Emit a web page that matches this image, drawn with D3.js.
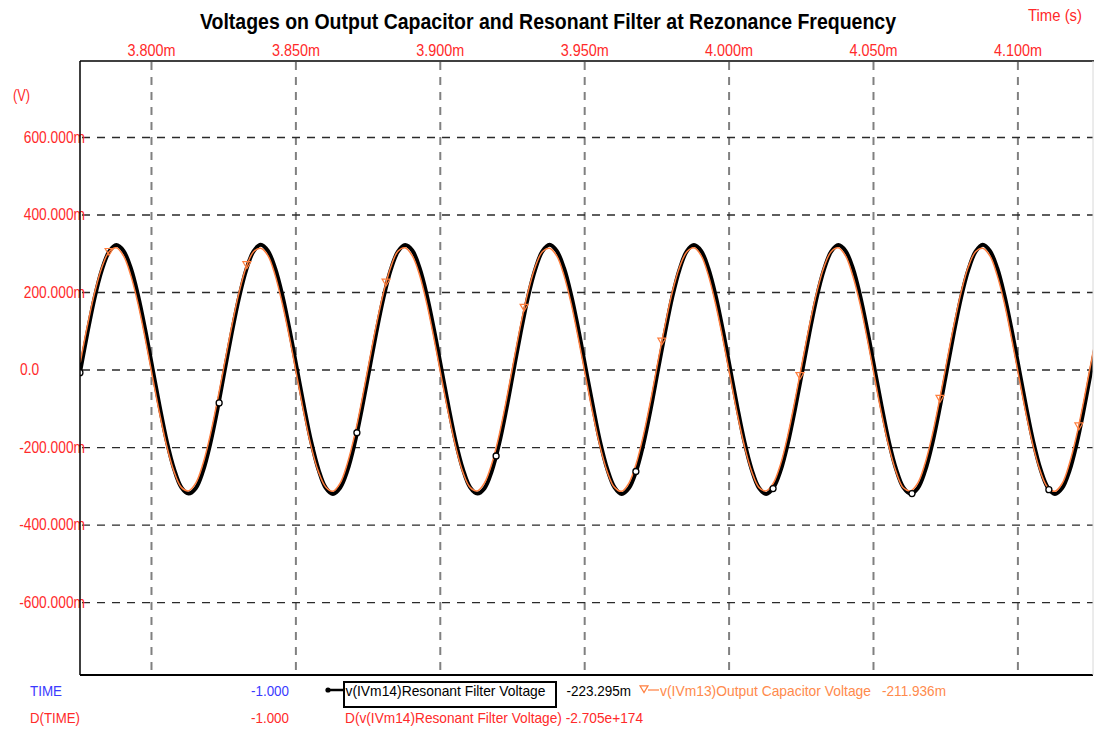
<!DOCTYPE html>
<html>
<head>
<meta charset="utf-8">
<script src="https://cdn.jsdelivr.net/npm/d3@7"></script>
<style>
  body { margin: 0; background: #fff; }
  svg { display: block; }
  text { font-family: "Liberation Sans", Arial, Helvetica, sans-serif; }
</style>
</head>
<body>
<svg id="chart" width="1094" height="729"></svg>
<script>
// ---- transient samples (time in ms, voltages in mV) ----
const timeMs = [
  3.7755,3.7780,3.7805,3.7830,3.7855,3.7880,3.7905,3.7930,3.7955,3.7980,
  3.8005,3.8030,3.8055,3.8080,3.8105,3.8130,3.8155,3.8180,3.8205,3.8230,
  3.8255,3.8280,3.8305,3.8330,3.8355,3.8380,3.8405,3.8430,3.8455,3.8480,
  3.8505,3.8530,3.8555,3.8580,3.8605,3.8630,3.8655,3.8680,3.8705,3.8730,
  3.8755,3.8780,3.8805,3.8830,3.8855,3.8880,3.8905,3.8930,3.8955,3.8980,
  3.9005,3.9030,3.9055,3.9080,3.9105,3.9130,3.9155,3.9180,3.9205,3.9230,
  3.9255,3.9280,3.9305,3.9330,3.9355,3.9380,3.9405,3.9430,3.9455,3.9480,
  3.9505,3.9530,3.9555,3.9580,3.9605,3.9630,3.9655,3.9680,3.9705,3.9730,
  3.9755,3.9780,3.9805,3.9830,3.9855,3.9880,3.9905,3.9930,3.9955,3.9980,
  4.0005,4.0030,4.0055,4.0080,4.0105,4.0130,4.0155,4.0180,4.0205,4.0230,
  4.0255,4.0280,4.0305,4.0330,4.0355,4.0380,4.0405,4.0430,4.0455,4.0480,
  4.0505,4.0530,4.0555,4.0580,4.0605,4.0630,4.0655,4.0680,4.0705,4.0730,
  4.0755,4.0780,4.0805,4.0830,4.0855,4.0880,4.0905,4.0930,4.0955,4.0980,
  4.1005,4.1030,4.1055,4.1080,4.1105,4.1130,4.1155,4.1180,4.1205,4.1230,
  4.1255,4.1280
];

// v(IVm14) Resonant Filter Voltage
const filterVoltage = [
  -4, 95, 186, 257, 304, 321, 306, 262, 192, 103, 4, -95, -186, -257, -304, -320, -306, -262, -192, -103,
  -3, 96, 186, 258, 305, 322, 306, 261, 191, 102, 3, -96, -187, -258, -305, -321, -305, -261, -191, -102,
  -4, 95, 185, 257, 304, 321, 307, 262, 192, 103, 4, -95, -186, -257, -304, -320, -306, -262, -193, -104,
  -4, 95, 186, 257, 305, 322, 306, 262, 192, 103, 4, -94, -186, -257, -304, -321, -306, -262, -192, -103,
  -3, 96, 187, 258, 305, 321, 306, 261, 191, 102, 3, -96, -187, -258, -305, -321, -305, -261, -191, -102,
  -4, 95, 186, 257, 304, 321, 306, 262, 192, 103, 4, -95, -186, -257, -304, -320, -306, -262, -192, -103,
  -4, 95, 186, 257, 304, 322, 306, 262, 192, 103, 4, -95, -186, -257, -304, -321, -306, -262, -192, -103,
  -4, 95
];

// v(IVm13) Output Capacitor Voltage
const capacitorVoltage = [
  18, 114, 199, 264, 304, 314, 293, 243, 170, 80, -18, -114, -199, -264, -304, -313, -293, -243, -170, -80,
  17, 113, 199, 265, 304, 313, 294, 243, 169, 81, -17, -114, -200, -264, -303, -314, -293, -242, -170, -80,
  18, 114, 198, 264, 305, 314, 293, 244, 170, 80, -18, -113, -199, -265, -304, -313, -292, -243, -171, -81,
  18, 115, 199, 264, 304, 313, 293, 243, 170, 79, -18, -114, -199, -264, -304, -314, -293, -243, -170, -80,
  19, 114, 200, 264, 303, 314, 294, 243, 169, 80, -17, -114, -198, -263, -304, -313, -293, -244, -170, -79,
  18, 114, 199, 264, 304, 314, 293, 242, 170, 80, -18, -115, -199, -264, -305, -313, -293, -243, -170, -80,
  18, 114, 199, 265, 304, 313, 293, 243, 171, 80, -18, -114, -199, -264, -304, -314, -294, -243, -170, -80,
  18, 114
];

// trace symbols
const filterMarkerTime  = [3.7754, 3.8236, 3.8713, 3.9195, 3.9679, 4.0154, 4.0635, 4.1109];
const filterMarkerValue = [-8, -86, -163, -223, -263, -307, -320, -310];
const capMarkerTime     = [3.7855, 3.8332, 3.8814, 3.9292, 3.9769, 4.0247, 4.0732, 4.1213];
const capMarkerValue    = [304, 270, 225, 160, 73, -16, -75, -146];

// axes
const timeTicks = [3.80, 3.85, 3.90, 3.95, 4.00, 4.05, 4.10];
const timeTickLabels = ["3.800m", "3.850m", "3.900m", "3.950m", "4.000m", "4.050m", "4.100m"];
const voltTicks = [-600, -400, -200, 0, 200, 400, 600];
const voltTickLabels = ["-600.000m", "-400.000m", "-200.000m", "0.0", "200.000m", "400.000m", "600.000m"];

// ---- drawing ----
const RED = "#ff2a2a", BLUE = "#3a3aff", ORANGE = "#ff7f3f", ORANGE_TXT = "#ff8a4c";
const svg = d3.select("#chart");
const box = { left: 80, top: 61, right: 1093, bottom: 675 };

const x = d3.scaleLinear().domain([3.77542, 4.12618]).range([box.left, box.right]);
const y = d3.scaleLinear().domain([-788, 796]).range([box.bottom, box.top]);

function squeeze(sel, factor) {
  sel.each(function () {
    const w = this.getComputedTextLength();
    d3.select(this).attr("textLength", w * factor).attr("lengthAdjust", "spacingAndGlyphs");
  });
}
function fit(sel, width) {
  sel.attr("textLength", width).attr("lengthAdjust", "spacingAndGlyphs");
}

// vertical grid (grey dashes, dashed from the top edge down)
const plotH = box.bottom - box.top;
const vGrid = svg.append("g")
  .attr("transform", `translate(0,${box.top})`)
  .call(d3.axisTop(x).tickValues(timeTicks).tickSize(-plotH).tickFormat(""));
vGrid.select(".domain").remove();
vGrid.selectAll(".tick line")
  .attr("stroke", "#808080").attr("stroke-width", 2)
  .attr("stroke-dasharray", "8,7")
  .attr("y1", 1).attr("y2", plotH);

// horizontal grid (dark dashes)
const hGrid = svg.append("g")
  .attr("transform", `translate(${box.left},0)`)
  .call(d3.axisLeft(y).tickValues(voltTicks).tickSize(-(box.right - box.left)).tickFormat(""));
hGrid.select(".domain").remove();
hGrid.selectAll(".tick line")
  .attr("stroke", "#2a2a2a").attr("stroke-width", 1.4)
  .attr("stroke-dasharray", "8,7")
  .attr("x1", 2);

// top time axis labels
const topAxis = svg.append("g")
  .attr("transform", `translate(0,${box.top})`)
  .call(d3.axisTop(x).tickValues(timeTicks).tickSize(0).tickPadding(5)
        .tickFormat((d, i) => timeTickLabels[i]));
topAxis.select(".domain").remove();
topAxis.selectAll("text")
  .attr("fill", RED).attr("font-size", 16).attr("font-family", "Liberation Sans, Arial, sans-serif")
  .attr("dy", 0)
  .call(fit, 48);

// left voltage axis labels
const leftAxis = svg.append("g")
  .attr("transform", `translate(${box.left + 5},0)`)
  .call(d3.axisLeft(y).tickValues(voltTicks).tickSize(0).tickPadding(0)
        .tickFormat((d, i) => voltTickLabels[i]));
leftAxis.select(".domain").remove();
leftAxis.selectAll("text")
  .attr("fill", RED).attr("font-size", 16).attr("font-family", "Liberation Sans, Arial, sans-serif")
  .call(squeeze, 0.86);
// the zero label sits flush left
leftAxis.selectAll(".tick").filter(d => d === 0).select("text")
  .attr("text-anchor", "start").attr("x", 20 - (box.left + 5));

// traces
const defs = svg.append("defs");
defs.append("clipPath").attr("id", "plotClip")
  .append("rect")
  .attr("x", box.left).attr("y", box.top)
  .attr("width", box.right - box.left).attr("height", box.bottom - box.top);

const traces = svg.append("g").attr("clip-path", "url(#plotClip)");

const line = d3.line()
  .x(d => x(d[0]))
  .y(d => y(d[1]))
  .curve(d3.curveCatmullRom.alpha(0.5));

const filterPts = timeMs.map((t, i) => [t, filterVoltage[i]]);
const capPts = timeMs.map((t, i) => [t, capacitorVoltage[i]]);

traces.append("path").datum(filterPts)
  .attr("d", line).attr("fill", "none")
  .attr("stroke", "#000").attr("stroke-width", 4)
  .attr("stroke-linejoin", "round");

traces.append("path").datum(capPts)
  .attr("d", line).attr("fill", "none")
  .attr("stroke", ORANGE).attr("stroke-width", 1.5)
  .attr("stroke-linejoin", "round");

// circle symbols on the filter trace
traces.selectAll("circle.fm")
  .data(filterMarkerTime.map((t, i) => [t, filterMarkerValue[i]]))
  .join("circle").attr("class", "fm")
  .attr("cx", d => x(d[0])).attr("cy", d => y(d[1])).attr("r", 3)
  .attr("fill", "#fff").attr("stroke", "#000").attr("stroke-width", 1.3);

// triangle symbols on the capacitor trace
const tri = (cx, cy, s) => `M${cx - s},${cy - s * 0.8}L${cx + s},${cy - s * 0.8}L${cx},${cy + s * 0.9}Z`;
traces.selectAll("path.cm")
  .data(capMarkerTime.map((t, i) => [t, capMarkerValue[i]]))
  .join("path").attr("class", "cm")
  .attr("d", d => tri(x(d[0]), y(d[1]), 4))
  .attr("fill", "none").attr("stroke", ORANGE).attr("stroke-width", 1.2);

// frame
svg.append("line").attr("x1", box.left).attr("x2", box.left).attr("y1", box.top).attr("y2", box.bottom)
  .attr("stroke", "#000").attr("stroke-width", 1.5);
svg.append("line").attr("x1", box.left).attr("x2", 1094).attr("y1", box.top).attr("y2", box.top)
  .attr("stroke", "#000").attr("stroke-width", 1.5);
svg.append("line").attr("x1", box.left).attr("x2", box.right).attr("y1", box.bottom).attr("y2", box.bottom)
  .attr("stroke", "#000").attr("stroke-width", 2);
svg.append("line").attr("x1", box.right).attr("x2", box.right).attr("y1", box.top).attr("y2", box.bottom)
  .attr("stroke", "#d8d8d8").attr("stroke-width", 1);

// title and unit captions
svg.append("text").attr("x", 548).attr("y", 29).attr("text-anchor", "middle")
  .attr("font-size", 22).attr("font-weight", "bold").attr("fill", "#000")
  .text("Voltages on Output Capacitor and Resonant Filter at Rezonance Frequency")
  .call(fit, 696);

svg.append("text").attr("x", 1028).attr("y", 21).attr("font-size", 16).attr("fill", RED)
  .text("Time  (s)").call(fit, 54);

svg.append("text").attr("x", 13).attr("y", 101).attr("font-size", 16).attr("fill", RED)
  .text("(V)").call(fit, 17);

// cursor readout / legend rows
const row1 = 696, row2 = 723;
svg.append("text").attr("x", 30).attr("y", row1).attr("font-size", 15).attr("fill", BLUE)
  .text("TIME").call(fit, 32);
svg.append("text").attr("x", 289).attr("y", row1).attr("font-size", 15).attr("fill", BLUE)
  .attr("text-anchor", "end").text("-1.000").call(fit, 38);
svg.append("text").attr("x", 30).attr("y", row2).attr("font-size", 15).attr("fill", RED)
  .text("D(TIME)").call(fit, 50);
svg.append("text").attr("x", 289).attr("y", row2).attr("font-size", 15).attr("fill", RED)
  .attr("text-anchor", "end").text("-1.000").call(fit, 38);

// filter trace legend entry
svg.append("line").attr("x1", 328).attr("x2", 344).attr("y1", 690).attr("y2", 690)
  .attr("stroke", "#000").attr("stroke-width", 2.5);
svg.append("circle").attr("cx", 328).attr("cy", 690).attr("r", 2.6).attr("fill", "#000");
svg.append("rect").attr("x", 344).attr("y", 682).attr("width", 212).attr("height", 25)
  .attr("fill", "none").attr("stroke", "#000").attr("stroke-width", 2);
svg.append("text").attr("x", 345.5).attr("y", row1).attr("font-size", 15).attr("fill", "#000")
  .text("v(IVm14)Resonant Filter Voltage").call(fit, 200);
svg.append("text").attr("x", 566.5).attr("y", row1).attr("font-size", 15).attr("fill", "#000")
  .text("-223.295m").call(fit, 64.5);

// capacitor trace legend entry
svg.append("path").attr("d", tri(644, 689, 4)).attr("fill", "none")
  .attr("stroke", ORANGE).attr("stroke-width", 1.2);
svg.append("line").attr("x1", 648).attr("x2", 659).attr("y1", 690).attr("y2", 690)
  .attr("stroke", ORANGE).attr("stroke-width", 1.2);
svg.append("text").attr("x", 660).attr("y", row1).attr("font-size", 15).attr("fill", ORANGE_TXT)
  .text("v(IVm13)Output Capacitor Voltage").call(fit, 211);
svg.append("text").attr("x", 882).attr("y", row1).attr("font-size", 15).attr("fill", ORANGE_TXT)
  .text("-211.936m").call(fit, 64);

svg.append("text").attr("x", 345).attr("y", row2).attr("font-size", 15).attr("fill", RED)
  .text("D(v(IVm14)Resonant Filter Voltage) -2.705e+174").call(fit, 298);
</script>
</body>
</html>
